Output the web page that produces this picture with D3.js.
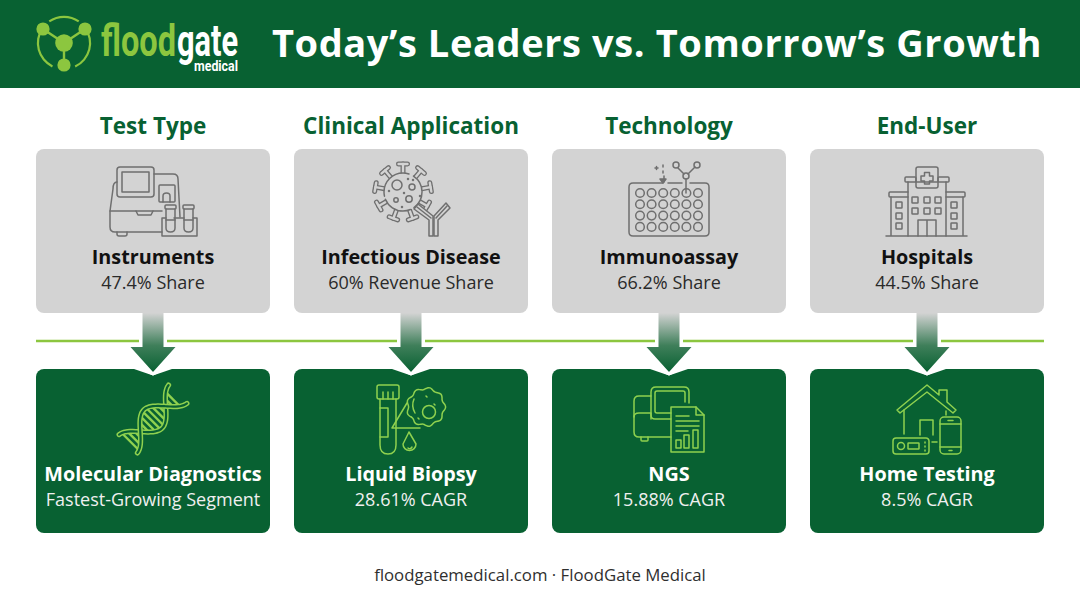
<!DOCTYPE html>
<html>
<head>
<meta charset="utf-8">
<script src="https://cdn.jsdelivr.net/npm/d3@7"></script>
<style>
html, body { margin: 0; padding: 0; background: #fff; }
svg { display: block; }
text { font-family: "Open Sans", sans-serif; }
</style>
</head>
<body>
<div id="chart"></div>
<script>
var categories = ['Test Type', 'Clinical Application', 'Technology', 'End-User'];
var leaderNames = ['Instruments', 'Infectious Disease', 'Immunoassay', 'Hospitals'];
var leaderValues = [47.4, 60, 66.2, 44.5];
var leaderUnits = ['Share', 'Revenue Share', 'Share', 'Share'];
var growthNames = ['Molecular Diagnostics', 'Liquid Biopsy', 'NGS', 'Home Testing'];
var growthLabels = ['Fastest-Growing Segment', '28.61% CAGR', '15.88% CAGR', '8.5% CAGR'];

var green = '#086132', lime = '#8cc63f', iconLime = '#8fd14f', grey = '#d3d3d3', iconGrey = '#6f6f6f';
var width = 1080, height = 603;

var svg = d3.select('#chart').append('svg').attr('width', width).attr('height', height);
var defs = svg.append('defs');
var grad = defs.append('linearGradient').attr('id', 'arrowFade')
	.attr('gradientUnits', 'userSpaceOnUse')
	.attr('x1', 0).attr('x2', 0).attr('y1', 313).attr('y2', 372);
grad.append('stop').attr('offset', 0).attr('stop-color', '#d3d3d3');
grad.append('stop').attr('offset', 0.55).attr('stop-color', '#3f7f5a');
grad.append('stop').attr('offset', 1).attr('stop-color', green);

var x = d3.scaleBand().domain(categories).range([36, 1044]).paddingInner(24 / 258);
var cx = function(d){ return x(d) + x.bandwidth() / 2; };

// header
svg.append('rect').attr('width', width).attr('height', 88).attr('fill', green);
svg.append('text').attr('x', 657).attr('y', 57).attr('text-anchor', 'middle')
	.attr('font-size', 38).attr('font-weight', 700).attr('letter-spacing', 0.6).attr('fill', '#fff')
	.text('Today\u2019s Leaders vs. Tomorrow\u2019s Growth');
drawLogo(svg.append('g'));

// divider, broken behind each arrow
svg.append('line').attr('x1', 36).attr('x2', 1044).attr('y1', 341).attr('y2', 341)
	.attr('stroke', lime).attr('stroke-width', 2.6);

var col = svg.selectAll('g.col').data(categories).enter().append('g')
	.attr('class', 'col')
	.attr('transform', function(d){ return 'translate(' + cx(d) + ',0)'; });

col.append('text').attr('y', 134).attr('text-anchor', 'middle')
	.attr('font-size', 22.5).attr('font-weight', 700).attr('fill', green)
	.text(function(d){ return d; });

col.append('rect').attr('x', -x.bandwidth() / 2).attr('y', 149).attr('width', x.bandwidth()).attr('height', 164)
	.attr('rx', 8).attr('fill', grey);
col.append('rect').attr('x', -x.bandwidth() / 2).attr('y', 369).attr('width', x.bandwidth()).attr('height', 164)
	.attr('rx', 8).attr('fill', green);

// white gap in the line, then arrow with a white edge on the tip
col.append('rect').attr('x', -14).attr('y', 338).attr('width', 28).attr('height', 6).attr('fill', '#fff');
col.append('path').attr('d', 'M-19,369L0,375.5L19,369Z').attr('fill', '#fff');
col.append('path').attr('d', 'M-10.5,313H10.5V347H22.5L0,372L-22.5,347H-10.5Z').attr('fill', 'url(#arrowFade)');
col.append('path').attr('d', 'M-15,368.5L0,375.5L15,368.5L0,372Z').attr('fill', '#fff');

col.append('text').attr('y', 264).attr('text-anchor', 'middle')
	.attr('font-size', 19.8).attr('font-weight', 700).attr('fill', '#111')
	.text(function(d, i){ return leaderNames[i]; });
col.append('text').attr('y', 289).attr('text-anchor', 'middle')
	.attr('font-size', 18).attr('fill', '#2a2a2a')
	.text(function(d, i){ return leaderValues[i] + '% ' + leaderUnits[i]; });
col.append('text').attr('y', 481).attr('text-anchor', 'middle')
	.attr('font-size', 19.8).attr('font-weight', 700).attr('fill', '#fff')
	.text(function(d, i){ return growthNames[i]; });
col.append('text').attr('y', 506).attr('text-anchor', 'middle')
	.attr('font-size', 18).attr('fill', '#f0f0f0')
	.text(function(d, i){ return growthLabels[i]; });

svg.append('text').attr('x', 540).attr('y', 581).attr('text-anchor', 'middle')
	.attr('font-size', 16.8).attr('fill', '#2f2f2f')
	.text('floodgatemedical.com \u00b7 FloodGate Medical');

// icons, local coords: origin at top centre of the card
var iconFns = [[iconInstrument, iconDna], [iconVirus, iconBiopsy], [iconPlate, iconNgs], [iconHospital, iconHome]];
col.each(function(d, i){
	var g = d3.select(this);
	iconFns[i][0](newIcon(g, 149, iconGrey, 1.5));
	iconFns[i][1](newIcon(g, 369, iconLime, 1.5));
});

function newIcon(g, top, color, sw){
	return g.append('g').attr('transform', 'translate(0,' + top + ')')
		.attr('fill', 'none').attr('stroke', color).attr('stroke-width', sw)
		.attr('stroke-linecap', 'round').attr('stroke-linejoin', 'round');
}
function p(g, d){ return g.append('path').attr('d', d); }
function box(g, x0, y0, w, h, r){
	return g.append('rect').attr('x', x0).attr('y', y0).attr('width', w).attr('height', h).attr('rx', r || 0);
}
function dot(g, x0, y0, r){
	return g.append('circle').attr('cx', x0).attr('cy', y0).attr('r', r);
}

function iconInstrument(g){
	box(g, -36, 18, 37, 30, 3);
	box(g, -31, 23, 27, 20, 0);
	p(g, 'M1,25H20Q25,25 25,30L27,68');
	p(g, 'M-36,33Q-40,33 -40,40L-43,62V78Q-43,83 -38,83H9');
	p(g, 'M-43,62H9');
	p(g, 'M-17,62L-15,66H-2L0,62');
	box(g, 6, 36, 16, 17, 1);
	p(g, 'M10,53V47Q10,44 13.500,44Q17,44 17,47V53');
	p(g, 'M-36,83V85Q-36,87 -34,87H-28Q-26,87 -26,85V83');
	p(g, 'M13,69H9V87H44V69H40');
	p(g, 'M21,69H31');
	[13, 31].forEach(function(t){
		box(g, t - 1, 56, 11, 4, 1);
		p(g, 'M' + t + ',60V79Q' + t + ',83 ' + (t + 4.5) + ',83Q' + (t + 9) + ',83 ' + (t + 9) + ',79V60');
		p(g, 'M' + t + ',71H' + (t + 9));
	});
}

function iconVirus(g){
	var c = [-8, 43], r = 19;
	d3.range(9).forEach(function(k){
		var a = k / 9 * 2 * Math.PI - 1.57;
		var ca = Math.cos(a), sa = Math.sin(a);
		var x1 = c[0] + r * ca, y1 = c[1] + r * sa, x2 = c[0] + (r + 9) * ca, y2 = c[1] + (r + 9) * sa;
		var stem = 'M' + x1 + ',' + y1 + 'L' + x2 + ',' + y2;
		var cap = 'M' + (x2 - 4.5 * sa) + ',' + (y2 + 4.5 * ca) + 'L' + (x2 + 4.5 * sa) + ',' + (y2 - 4.5 * ca);
		p(g, stem).attr('stroke-width', 5);
		p(g, cap).attr('stroke-width', 5);
		p(g, stem).attr('stroke-width', 2.4).attr('stroke', grey);
		p(g, cap).attr('stroke-width', 2.4).attr('stroke', grey);
	});
	dot(g, c[0], c[1], r).attr('fill', grey).attr('stroke-dasharray', '18 4 30 3 40 5');
	dot(g, -14, 36, 5);
	dot(g, 1, 38, 3);
	dot(g, -15, 51, 2.2);
	dot(g, -2, 50, 3.200);
	[[-3, 30], [2, 31], [-22, 42], [-7, 44], [9, 47], [-9, 58]].forEach(function(q){
		dot(g, q[0], q[1], 0.5);
	});
	// antibody
	p(g, 'M18,87V71L3,60L7,55L22,67V87Z').attr('fill', grey);
	p(g, 'M23,87V67L35,54L39,59L27,71V87Z').attr('fill', grey);
	p(g, 'M6,58L20,69M36,57L25,69');
}

function iconPlate(g){
	p(g, 'M-6,34H-36Q-40,34 -40,38V83Q-40,87 -36,87H36Q40,87 40,83V38Q40,34 36,34H21M-1,34H13');
	d3.range(4).forEach(function(r){
		d3.range(6).forEach(function(c){
			dot(g, -29 + c * 11.6, 44 + r * 11.3, 4.3);
		});
	});
	dot(g, 7, 16, 3);
	dot(g, 28, 16, 3);
	dot(g, 17, 27, 3);
	p(g, 'M9,19L15,25M26,18L19,25M17,30V44');
	p(g, 'M-6,16V18M-6,22V24M-5,27V33');
	p(g, 'M-9,30L-6,34L-3,30Z').attr('fill', iconGrey);
	p(g, 'M-14,19H-11M-12.500,17.500V20.500');
}

function iconHospital(g){
	box(g, -11, 18, 22, 21, 2);
	p(g, 'M-2.500,23.500H2.500V27H6V32H2.500V35H-2.500V32H-6V27H-2.500Z');
	box(g, -22, 28, 11, 5, 1);
	box(g, 11, 28, 11, 5, 1);
	p(g, 'M-19,33V87M19,33V87M-11,33H11');
	p(g, 'M-19,43H-37Q-38,43 -38,44V47Q-38,48 -37,48H-19M19,43H37Q38,43 38,44V47Q38,48 37,48H19');
	p(g, 'M-36,48V87M36,48V87M-41,87H40');
	[-12, 0, 11].forEach(function(a){
		[51, 62].forEach(function(b){ box(g, a - 3, b - 3, 6, 6, 0.5); });
	});
	[-28, 27].forEach(function(a){
		[56, 67, 77].forEach(function(b){ box(g, a - 3, b - 3, 6, 6, 0.5); });
	});
	p(g, 'M-9,87V71H9V87M0,71V87');
}

function iconDna(g){
	var h = g.append('g').attr('transform', 'translate(0,50) rotate(-45)');
	var line = d3.line().curve(d3.curveBasis);
	var wave = function(sign){
		return d3.range(-35, 36, 2).map(function(u){
			return [u, sign * 13 * Math.cos(Math.PI * u / 36)];
		});
	};
	d3.range(-32, 33, 5).forEach(function(u){
		var v = 13 * Math.cos(Math.PI * u / 36);
		if (Math.abs(v) > 3) p(h, 'M' + u + ',' + v + 'L' + u + ',' + (-v)).attr('stroke-width', 2.4);
	});
	[1, -1].forEach(function(s){
		h.append('path').attr('d', line(wave(s))).attr('stroke-width', 5.2);
		h.append('path').attr('d', line(wave(s))).attr('stroke-width', 2.2).attr('stroke', green);
	});
}

function iconBiopsy(g){
	box(g, -34, 16, 22, 14, 2);
	p(g, 'M-28,23V30M-23,23V30M-18,23V30');
	p(g, 'M-31,30V76Q-31,85 -23,85Q-15,85 -15,76V30');
	p(g, 'M-31,39H-23V68H-31');
	p(g, 'M-4,34L-19,59H9');
	var blob = d3.range(0, 360, 6).map(function(a){
		var t = a * Math.PI / 180, r = 18.5 + 1.1 * Math.cos(t * 9);
		return [15 + r * Math.cos(t), 38 + r * Math.sin(t)];
	});
	p(g, d3.line().curve(d3.curveCardinalClosed)(blob));
	dot(g, 18, 43, 6.5);
	p(g, 'M3,30Q0,37 4,44M15,27L16,28M7,49L8,50M23,35L24,36');
	p(g, 'M-2,63L-8,75A6.500,6.500 0 1 0 5,75Z');
	p(g, 'M-3,79Q-1,81 1,78');
}

function iconNgs(g){
	p(g, 'M20,34V23Q20,18 15,18H-13Q-18,18 -18,23V46Q-18,50 -14,50H2');
	p(g, 'M16,33V24Q16,22 14,22H-12Q-14,22 -14,24V42Q-14,44 -12,44H2');
	p(g, 'M-18,27H-30Q-35,27 -35,32V63Q-35,68 -30,68H2');
	p(g, 'M-35,48Q-35,44 -30,44H-18M-18,50V44');
	p(g, 'M-28,68V71Q-28,72 -27,72H-22Q-21,72 -21,71V68');
	p(g, 'M2,38H27L35,46V83H2Z');
	p(g, 'M27,38V46H35');
	p(g, 'M7,47H20M7,52H30M7,57H30M7,62H19');
	box(g, 7, 71, 5, 8, 0);
	box(g, 15, 66, 5, 13, 0);
	box(g, 24, 61, 5, 18, 0);
}

function iconHome(g){
	p(g, 'M-30,41L0,16L12,26V21H20V33L29,41L26,44L0,23L-27,44Z');
	p(g, 'M-23,41V65M19,42V46');
	p(g, 'M-7,66V51H6V66');
	box(g, 13, 48, 21, 37, 4);
	p(g, 'M13,55H34M13,78H34M21,51.500H26M22,81.500H25');
	box(g, -34, 69, 36, 16, 3);
	dot(g, -26, 77, 3.5);
	box(g, -19, 74, 11, 6, 0.5);
	p(g, 'M-2,73V74M-2,77V78M-2,81V82M5,73H10');
}

function drawLogo(g){
	var arc = d3.arc().innerRadius(25).outerRadius(27.2);
	var logoG = g.append('g').attr('transform', 'translate(64,43)');
	[[-0.6, 0.6], [0.95, 2.7], [3.6, 5.3]].forEach(function(a){
		logoG.append('path').attr('d', arc({startAngle: a[0], endAngle: a[1]})).attr('fill', lime);
	});
	[[-21, -14], [21, -14], [0, 22]].forEach(function(n){
		logoG.append('line').attr('x1', 0).attr('y1', 0).attr('x2', n[0]).attr('y2', n[1])
			.attr('stroke', lime).attr('stroke-width', 2.4);
		logoG.append('circle').attr('cx', n[0]).attr('cy', n[1]).attr('r', 6.6).attr('fill', lime);
	});
	logoG.append('circle').attr('r', 8.8).attr('fill', lime);
	var narrow = '"Liberation Sans Narrow","Roboto",sans-serif';
	var word = function(t, x0, sx){
		return g.append('text').attr('transform', 'translate(' + x0 + ',56) scale(' + sx + ',1)')
			.attr('font-size', 44).attr('font-weight', 700).style('font-family', narrow).text(t);
	};
	word('flood', 101, 0.74).attr('fill', lime);
	word('gate', 177, 0.7).attr('fill', '#fff');
	g.append('text').attr('transform', 'translate(194,71) scale(0.86,1)')
		.attr('font-size', 14.4).attr('font-weight', 700).attr('fill', '#fff')
		.style('font-family', narrow).text('medical');
}
</script>
</body>
</html>
